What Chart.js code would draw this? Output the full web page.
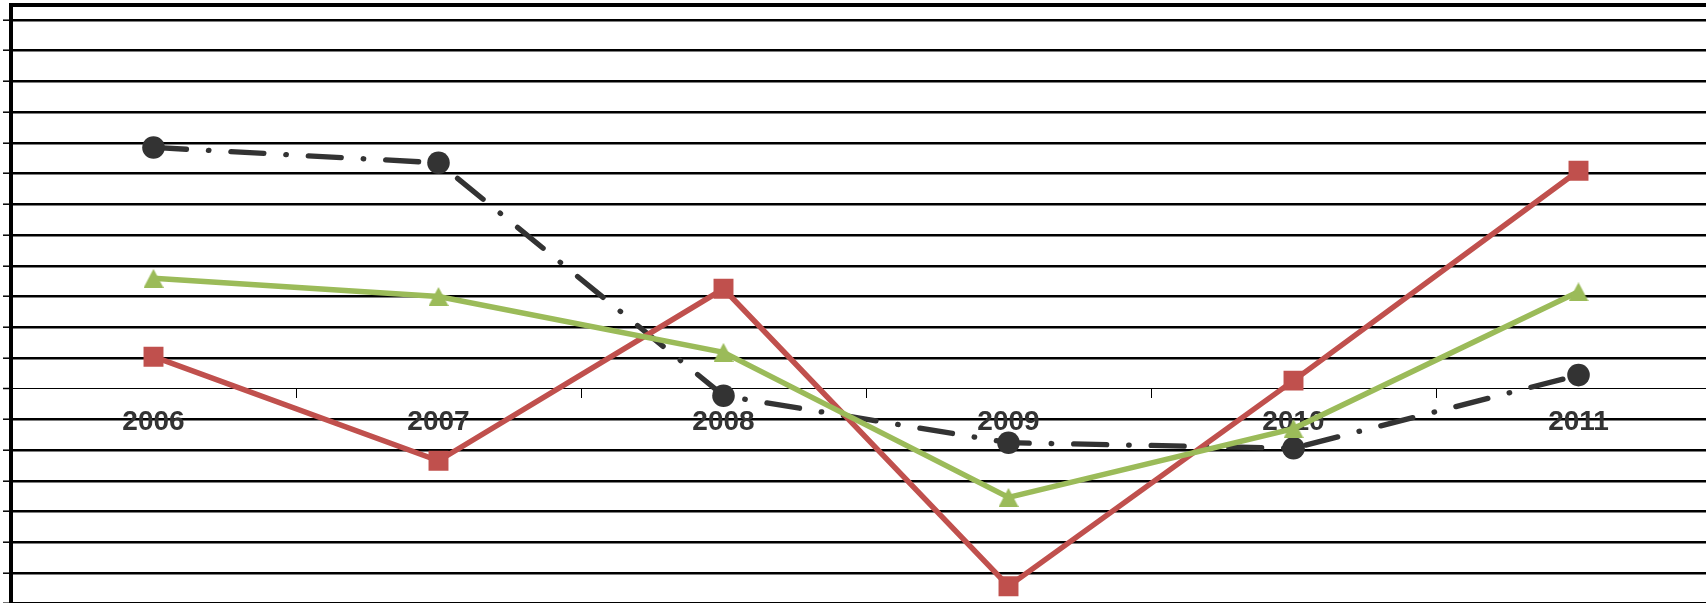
<!DOCTYPE html>
<html>
<head>
<meta charset="utf-8">
<script src="https://cdn.jsdelivr.net/npm/chart.js@4"></script>
<style>
  html, body { margin: 0; padding: 0; background: #fff; overflow: hidden; width: 1706px; height: 603px; }
  #wrap { position: absolute; left: 0; top: 0; width: 1730px; height: 640px; }
</style>
</head>
<body>
<div id="wrap"><canvas id="c" width="1730" height="640"></canvas></div>
<script>
const categories = ['2006', '2007', '2008', '2009', '2010', '2011'];
const seriesBlack = [7.85, 7.35, -0.23, -1.76, -1.94, 0.44];
const seriesRed   = [1.04, -2.35, 3.25, -6.43, 0.26, 7.09];
const seriesGreen = [3.59, 3.00, 1.18, -3.54, -1.30, 3.15];
const yMin = -8;
const yMax = 12.5;
const yStep = 1;

// green triangle marker (centred on the point)
const tri = document.createElement('canvas');
tri.width = 20; tri.height = 19;
const tc = tri.getContext('2d');
tc.fillStyle = '#9BBB59';
tc.beginPath(); tc.moveTo(10, 0); tc.lineTo(20, 19); tc.lineTo(0, 19); tc.closePath(); tc.fill();

new Chart(document.getElementById('c'), {
  type: 'line',
  data: {
    labels: categories,
    datasets: [
      {
        data: seriesBlack, order: 2,
        borderColor: '#333333', borderWidth: 5.3,
        borderDash: [33, 22, 0.5, 22], borderCapStyle: 'round',
        pointStyle: 'circle', pointRadius: 11.3, pointBackgroundColor: '#333333', pointBorderWidth: 0,
        tension: 0
      },
      {
        data: seriesRed, order: 1,
        borderColor: '#C0504D', borderWidth: 5.5,
        pointStyle: 'rect', pointRadius: 14.1, pointBackgroundColor: '#C0504D', pointBorderWidth: 0,
        tension: 0
      },
      {
        data: seriesGreen, order: 0,
        borderColor: '#9BBB59', borderWidth: 5.5,
        pointStyle: tri, pointRadius: 10, pointBackgroundColor: '#9BBB59', pointBorderWidth: 0,
        tension: 0
      }
    ]
  },
  options: {
    responsive: false,
    animation: false,
    events: [],
    devicePixelRatio: 1,
    layout: { autoPadding: false, padding: { left: 3, top: 4.6, right: 9, bottom: 5.6 } },
    plugins: { legend: { display: false }, tooltip: { enabled: false } },
    scales: {
      x: {
        type: 'category',
        offset: true,
        position: { y: 0 },
        z: 1,
        grid: { display: true, drawOnChartArea: false, drawTicks: true, tickLength: 9, offset: true, color: '#000', lineWidth: 1 },
        border: { display: true, color: '#000', width: 1 },
        ticks: {
          color: '#333333', padding: 8, maxRotation: 0, autoSkip: false,
          font: { family: "'Liberation Sans', Arial, sans-serif", size: 28, weight: 'bold' }
        }
      },
      x2: {
        type: 'category',
        labels: categories,
        offset: true,
        position: 'top',
        grid: { display: false, drawTicks: false },
        ticks: { display: false },
        border: { display: true, color: '#000', width: 4 }
      },
      y: {
        position: 'left',
        min: yMin, max: yMax,
        ticks: { display: false, stepSize: yStep },
        afterBuildTicks: (s) => { s.ticks = s.ticks.filter(t => Number.isInteger(t.value)); },
        grid: {
          color: '#000',
          lineWidth: (ctx) => (ctx.tick && ctx.tick.value === 0) ? 1 : 2.4,
          drawTicks: true, tickLength: 8, tickWidth: 1.5, tickColor: '#000'
        },
        border: { display: true, color: '#000', width: 4 }
      }
    }
  }
});
</script>
</body>
</html>
